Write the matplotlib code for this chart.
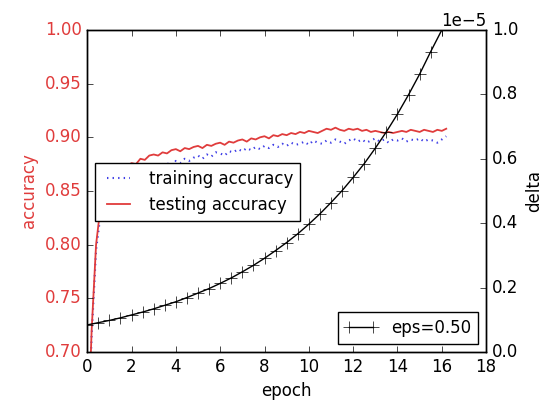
import matplotlib
matplotlib.use('Agg')
import matplotlib.pyplot as plt
import numpy as np

# accuracy sampled every 0.2 epoch
train_acc = [0.600, 0.715, 0.795, 0.828, 0.842, 0.850, 0.855, 0.858, 0.861, 0.864,
             0.866, 0.865, 0.869, 0.866, 0.871, 0.873, 0.870, 0.875, 0.876, 0.873,
             0.878, 0.876, 0.880, 0.878, 0.881, 0.883, 0.880, 0.884, 0.882, 0.886,
             0.885, 0.883, 0.887, 0.886, 0.889, 0.887, 0.890, 0.888, 0.891, 0.889,
             0.892, 0.890, 0.893, 0.891, 0.894, 0.892, 0.895, 0.893, 0.894, 0.896,
             0.893, 0.897, 0.895, 0.894, 0.897, 0.895, 0.898, 0.896, 0.894, 0.897,
             0.899, 0.896, 0.898, 0.895, 0.897, 0.899, 0.896, 0.898, 0.895, 0.898,
             0.897, 0.899, 0.896, 0.898, 0.897, 0.899, 0.896, 0.898, 0.897, 0.895,
             0.898, 0.901]
test_acc = [0.600, 0.720, 0.800, 0.835, 0.850, 0.858, 0.863, 0.867, 0.870, 0.873,
            0.876, 0.875, 0.880, 0.879, 0.883, 0.884, 0.883, 0.886, 0.885, 0.888,
            0.889, 0.887, 0.890, 0.889, 0.891, 0.892, 0.890, 0.893, 0.892, 0.894,
            0.895, 0.893, 0.896, 0.895, 0.897, 0.898, 0.896, 0.899, 0.898, 0.900,
            0.901, 0.899, 0.902, 0.901, 0.903, 0.902, 0.904, 0.903, 0.905, 0.904,
            0.906, 0.905, 0.904, 0.906, 0.908, 0.907, 0.909, 0.907, 0.906, 0.908,
            0.907, 0.908, 0.906, 0.907, 0.905, 0.906, 0.905, 0.904, 0.905, 0.904,
            0.905, 0.906, 0.905, 0.907, 0.906, 0.905, 0.907, 0.906, 0.905, 0.907,
            0.906, 0.908]
acc_epochs = np.arange(len(test_acc)) * 0.2

# delta (x1e-5) every half epoch
delta = [0.084, 0.091, 0.098, 0.106, 0.115, 0.124, 0.134, 0.145, 0.156, 0.169,
         0.183, 0.197, 0.213, 0.230, 0.249, 0.269, 0.291, 0.315, 0.340, 0.367,
         0.397, 0.429, 0.464, 0.501, 0.542, 0.585, 0.633, 0.684, 0.739, 0.799,
         0.863, 0.933, 1.000]
delta_epochs = np.arange(len(delta)) * 0.5

red = '#e03c3c'

plt.style.use('classic')
plt.rcParams['figure.facecolor'] = 'white'

fig = plt.figure(figsize=(5.45, 4.03), dpi=100)
ax = fig.add_axes([0.16, 0.1266, 0.732, 0.799])
ax.plot(acc_epochs, train_acc, linestyle=(0, (1, 3)), color='#3c3ce6', lw=1.5,
        label='training accuracy')
ax.plot(acc_epochs, test_acc, '-', color=red, lw=1.3, label='testing accuracy')
ax.set_xlim(0, 18)
ax.set_ylim(0.70, 1.00)
ax.set_yticks(np.arange(0.70, 1.001, 0.05))
ax.set_xlabel('epoch')
ax.set_ylabel('accuracy', color=red)
ax.tick_params(axis='y', labelcolor=red)
ax.legend(loc='upper left', bbox_to_anchor=(0.02, 0.587), borderaxespad=0, fontsize=12)

ax2 = ax.twinx()
ax2.plot(delta_epochs, np.array(delta) * 1e-5, 'k-', marker='+', markersize=8, label='eps=0.50')
ax2.set_ylim(0, 1e-5)
ax2.set_xlim(0, 18)
ax2.ticklabel_format(axis='y', style='sci', scilimits=(0, 0))
ax2.set_ylabel('delta')
ax2.legend(loc='lower right', fontsize=12)

fig.savefig('out.png', dpi=100)
